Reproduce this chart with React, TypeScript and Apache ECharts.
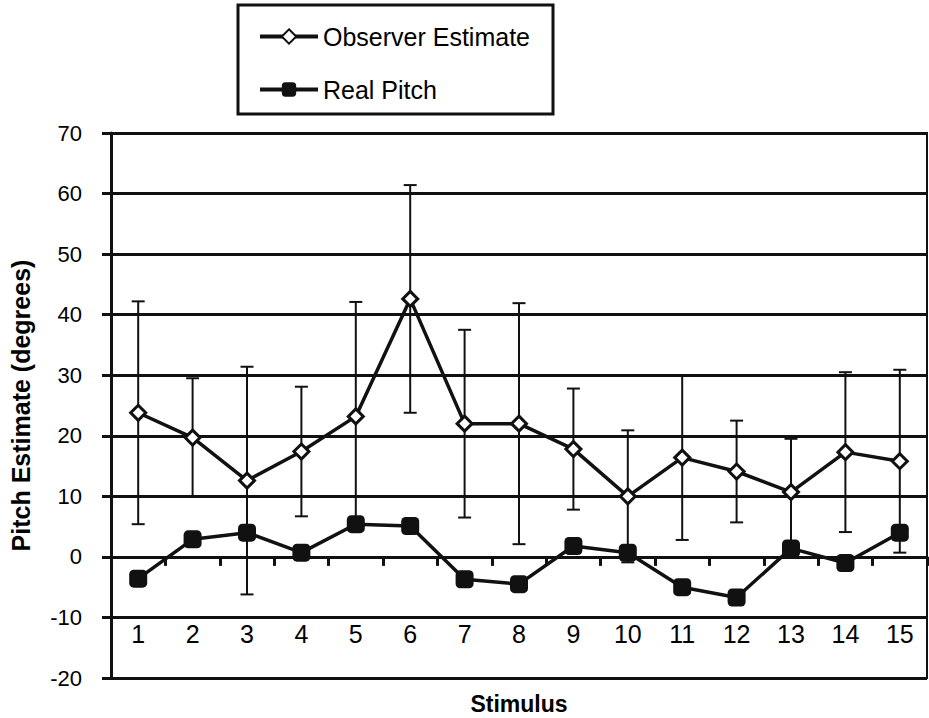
import React, { useEffect, useRef } from "react";
import * as echarts from "echarts";

const categories = ["1", "2", "3", "4", "5", "6", "7", "8", "9", "10", "11", "12", "13", "14", "15"];
const observerMean = [23.8, 19.7, 12.6, 17.4, 23.2, 42.6, 22.0, 22.0, 17.8, 10.0, 16.4, 14.1, 10.7, 17.3, 15.8];
const observerErr = [18.4, 9.8, 18.8, 10.7, 18.9, 18.8, 15.5, 19.9, 10.0, 10.9, 13.6, 8.4, 8.8, 13.2, 15.1];
const realPitch = [-3.6, 2.9, 4.0, 0.7, 5.4, 5.1, -3.7, -4.5, 1.8, 0.7, -5.0, -6.7, 1.4, -1.0, 4.0];
const yTicks = { min: -20, max: 70, interval: 10 };

const FONT = "Liberation Sans, Arial, sans-serif";
const INK = "#111";

export default function App() {
  const ref = useRef<HTMLDivElement>(null);
  useEffect(() => {
    if (!ref.current) return;
    const chart = echarts.init(ref.current, null, { renderer: "svg" });
    const errData = observerMean.map((m, i) => [i, m - observerErr[i], m + observerErr[i]]);
    chart.setOption({
      animation: false,
      backgroundColor: "#fff",
      textStyle: { fontFamily: FONT, color: "#000" },
      legend: {
        orient: "vertical",
        left: 238,
        top: 5,
        padding: [19, 23, 12, 20],
        itemGap: 28,
        itemWidth: 58,
        itemHeight: 18,
        borderColor: INK,
        borderWidth: 3,
        lineStyle: { width: 4, color: INK },
        textStyle: { fontSize: 25, fontFamily: FONT, color: "#000" },
        data: ["Observer Estimate", "Real Pitch"],
      },
      grid: {
        left: 111,
        top: 133,
        width: 816,
        height: 545,
        show: true,
        borderColor: INK,
        borderWidth: 2,
        backgroundColor: "transparent",
        containLabel: false,
        outerBoundsMode: "none",
      },
      xAxis: [
        {
          type: "category",
          data: categories,
          boundaryGap: true,
          position: "bottom",
          axisLine: { onZero: true, lineStyle: { color: INK, width: 3 } },
          axisTick: { show: true, length: 9, lineStyle: { color: INK, width: 3 } },
          axisLabel: { show: false },
          splitLine: { show: false },
        },
        {
          type: "category",
          data: categories,
          boundaryGap: true,
          position: "bottom",
          name: "Stimulus",
          nameLocation: "middle",
          nameGap: 14,
          nameTextStyle: { fontSize: 23, fontWeight: "bold", fontFamily: FONT, color: "#000" },
          axisLine: { show: false, onZero: false },
          axisTick: { show: false },
          axisLabel: { inside: true, margin: 32, fontSize: 25, fontFamily: FONT, color: "#000" },
          splitLine: { show: false },
        },
      ],
      yAxis: {
        type: "value",
        min: yTicks.min,
        max: yTicks.max,
        interval: yTicks.interval,
        name: "Pitch Estimate (degrees)",
        nameLocation: "middle",
        nameGap: 78,
        nameTextStyle: { fontSize: 25, fontWeight: "bold", fontFamily: FONT, color: "#000" },
        axisLine: { show: true, lineStyle: { color: INK, width: 3 } },
        axisTick: { show: true, length: 9, lineStyle: { color: INK, width: 3 } },
        axisLabel: { margin: 29, fontSize: 22, fontFamily: FONT, color: "#000" },
        splitLine: { show: true, lineStyle: { color: INK, width: 3 } },
      },
      series: [
        {
          type: "custom",
          name: "errors",
          z: 1,
          silent: true,
          xAxisIndex: 0,
          data: errData,
          renderItem: (params: any, api: any) => {
            const x = api.value(0);
            const lo = api.coord([x, api.value(1)]);
            const hi = api.coord([x, api.value(2)]);
            const half = 6.5;
            const style = { stroke: INK, lineWidth: 2 };
            return {
              type: "group",
              children: [
                { type: "line", shape: { x1: hi[0], y1: hi[1], x2: lo[0], y2: lo[1] }, style },
                { type: "line", shape: { x1: hi[0] - half, y1: hi[1], x2: hi[0] + half, y2: hi[1] }, style },
                { type: "line", shape: { x1: lo[0] - half, y1: lo[1], x2: lo[0] + half, y2: lo[1] }, style },
              ],
            };
          },
        },
        {
          type: "line",
          name: "Observer Estimate",
          z: 3,
          xAxisIndex: 0,
          data: observerMean,
          symbol: "diamond",
          symbolSize: 15,
          showAllSymbol: true,
          lineStyle: { color: INK, width: 3.5 },
          itemStyle: { color: "#fff", borderColor: INK, borderWidth: 3 },
        },
        {
          type: "line",
          name: "Real Pitch",
          z: 4,
          xAxisIndex: 0,
          data: realPitch,
          symbol: "roundRect",
          symbolSize: 18,
          showAllSymbol: true,
          lineStyle: { color: INK, width: 3.5 },
          itemStyle: { color: INK, borderColor: INK, borderWidth: 0 },
        },
      ],
    });
    return () => chart.dispose();
  }, []);
  return (
    <div
      ref={ref}
      style={{ position: "fixed", left: 0, top: 0, width: 929, height: 718, background: "#fff" }}
    />
  );
}
